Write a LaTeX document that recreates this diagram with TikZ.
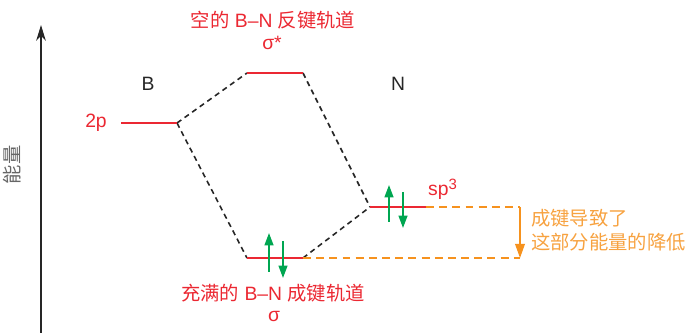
\documentclass[tikz,border=0pt]{standalone}
\usepackage{fontspec}
\setmainfont{Liberation Sans}
\newfontfamily\cjk{Noto Sans CJK SC}
\usetikzlibrary{arrows.meta,calc}

\definecolor{levelred}{RGB}{235,40,50}
\definecolor{bondorange}{RGB}{246,146,30}
\definecolor{spingreen}{RGB}{0,166,81}

\begin{document}
\begin{tikzpicture}[
    x=0.02cm, y=-0.02cm,
    font=\fontsize{11}{13.7}\selectfont,
    >=Stealth,
    level/.style={draw=levelred, line width=1.2pt},
    mixline/.style={draw=black!85, line width=0.9pt, dash pattern=on 3pt off 2.3pt},
    guide/.style={draw=bondorange, line width=0.9pt, dash pattern=on 4.5pt off 3pt},
    spin/.style={draw=spingreen, line width=1pt, -{Triangle[length=7pt,width=5pt]}},
    redlabel/.style={text=levelred, inner sep=1pt, align=center},
    atomlabel/.style={text=black!85, inner sep=1pt}
]
    \useasboundingbox (0,0) rectangle (690,333);

    % energy axis
    \coordinate (axisbot) at (41,333);
    \coordinate (axistop) at (41,25);
    \draw[-{Stealth[length=9pt,width=5.5pt]}, line width=0.8pt, black!85] (axisbot) -- (axistop);
    \node[rotate=90, text=black!60, inner sep=1pt] (energy) at (12,165) {\cjk 能量};

    % orbital levels
    \coordinate (b2pL) at (121,123);   \coordinate (b2pR) at (177,123);
    \coordinate (sstarL) at (247,73);  \coordinate (sstarR) at (303,73);
    \coordinate (sigL) at (247,258);   \coordinate (sigR) at (303,258);
    \coordinate (nspL) at (370,207);   \coordinate (nspR) at (426,207);
    \coordinate (droptop) at (520,207);
    \coordinate (dropbot) at (520,258);

    \draw[mixline] (b2pR) -- (sstarL);
    \draw[mixline] (b2pR) -- (sigL);
    \draw[mixline] (sstarR) -- (nspL);
    \draw[mixline] (sigR) -- (nspL);

    \draw[guide] (nspR) -- (droptop);
    \draw[guide] (sigR) -- (dropbot);
    \draw[draw=bondorange, line width=0.9pt, -{Triangle[length=8pt,width=5.5pt]}] (droptop) -- (dropbot);

    \draw[level] (b2pL) -- (b2pR);
    \draw[level] (sstarL) -- (sstarR);
    \draw[level] (sigL) -- (sigR);
    \draw[level] (nspL) -- (nspR);

    % electrons
    \draw[spin] ($(sigL)+(22,14)$) -- ++(0,-39);
    \draw[spin] ($(sigL)+(36,-17)$) -- ++(0,37);
    \draw[spin] ($(nspL)+(19,15)$) -- ++(0,-37);
    \draw[spin] ($(nspL)+(33,-15)$) -- ++(0,36);

    % labels
    \node[atomlabel] (atomB) at (148,84) {B};
    \node[atomlabel] (atomN) at (398,84) {N};
    \node[redlabel] (lbl2p) at (96,123) {2p};
    \node[redlabel, anchor=west] (lblsp) at (426,189) {sp\raisebox{0.55ex}{\fontsize{8.5}{10}\selectfont 3}};
    \node[redlabel] (antibond) at (273,20) {{\cjk 空的} B–N {\cjk 反键轨道}};
    \node[redlabel] (sigstar) at (272,43) {σ*};
    \node[redlabel] (bond) at (273,293) {{\cjk 充满的} B–N {\cjk 成键轨道}};
    \node[redlabel] (sig) at (274,316) {σ};
    \node[text=bondorange!85, anchor=west, align=left, inner sep=1pt] (dropnote) at (529,230)
        {\cjk 成键导致了\\\cjk 这部分能量的降低};

\end{tikzpicture}
\end{document}
